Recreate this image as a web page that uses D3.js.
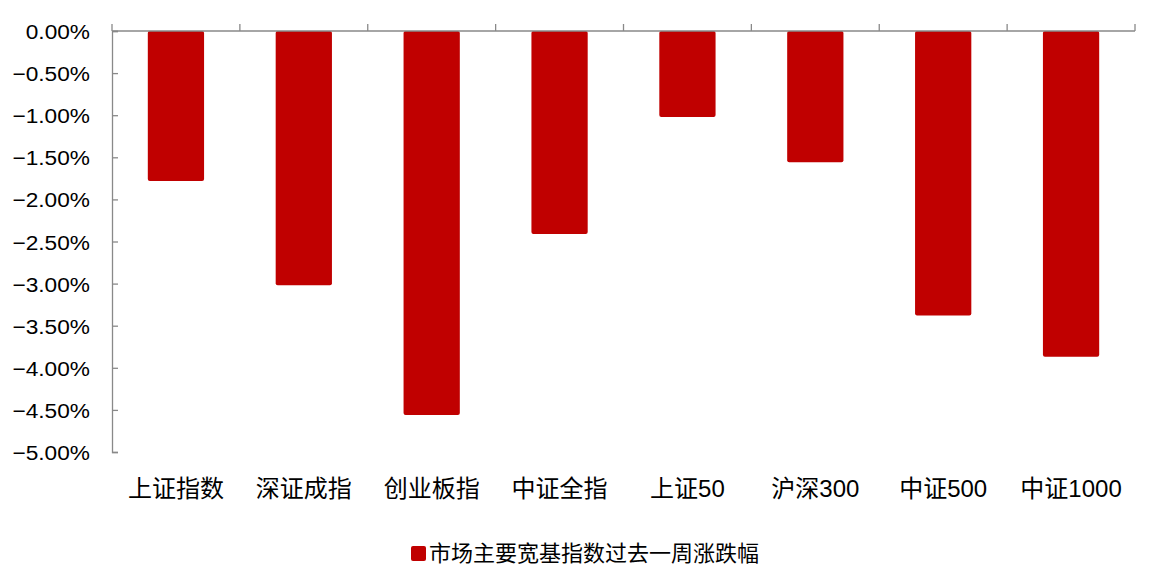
<!DOCTYPE html>
<html><head><meta charset="utf-8">
<script src="https://cdn.jsdelivr.net/npm/d3@7"></script>
<style>
body{margin:0;background:#fff;}
text{font-family:"Liberation Sans","Noto Sans CJK SC",Arial,sans-serif;}
</style></head>
<body><svg id="chart" width="1149" height="576"></svg>
<script>
const categories = ["上证指数","深证成指","创业板指","中证全指","上证50","沪深300","中证500","中证1000"];
const values = [-1.78, -3.02, -4.56, -2.41, -1.02, -1.56, -3.38, -3.87];
const yTicks = [0, -0.5, -1, -1.5, -2, -2.5, -3, -3.5, -4, -4.5, -5];
const seriesName = "市场主要宽基指数过去一周涨跌幅";

const svg = d3.select("#chart");
const pL = 112, pR = 1135, pT = 31, pB = 452;
const x = d3.scaleBand().domain(categories).range([pL, pR]).paddingInner(0.56).paddingOuter(0.28);
const y = d3.scaleLinear().domain([-5, 0]).range([pB, pT]);
const axisColor = "#898989";

// bars
svg.selectAll("rect.bar").data(values).enter().append("rect")
  .attr("class","bar")
  .attr("x",(d,i)=>x(categories[i]))
  .attr("width",x.bandwidth())
  .attr("y",y(0))
  .attr("height",d=>y(d)-y(0))
  .attr("rx",2)
  .attr("fill","#C00000");

// y axis
const yAxis = svg.append("g").attr("transform",`translate(${pL},0)`)
  .call(d3.axisRight(y).tickValues(yTicks).tickSize(6).tickFormat(d=>d3.format(".2f")(d)+"%"));
yAxis.select(".domain").attr("stroke",axisColor).attr("stroke-width",1.3);
yAxis.selectAll(".tick line").attr("stroke",axisColor).attr("stroke-width",1.3);
yAxis.selectAll(".tick text").attr("x",0).attr("text-anchor","end")
  .attr("transform","translate(-22,0) scale(1.08,1)")
  .attr("font-size",21).attr("fill","#000").attr("dy","0.36em");

// top (zero) axis with category boundary ticks pointing up
const boundaries = d3.range(categories.length+1).map(i=>pL + i*(pR-pL)/categories.length);
svg.append("line").attr("x1",pL).attr("x2",pR).attr("y1",y(0)).attr("y2",y(0))
  .attr("stroke",axisColor).attr("stroke-width",1.5);
svg.selectAll("line.bt").data(boundaries).enter().append("line").attr("class","bt")
  .attr("x1",d=>d).attr("x2",d=>d).attr("y1",y(0)).attr("y2",y(0)-7)
  .attr("stroke",axisColor).attr("stroke-width",1.3);

// category labels
svg.selectAll("text.cat").data(categories).enter().append("text").attr("class","cat")
  .attr("x",d=>x(d)+x.bandwidth()/2).attr("y",497)
  .attr("text-anchor","middle").attr("font-size",24).attr("fill","#000")
  .text(d=>d);

// legend
const lg = svg.append("g");
lg.append("rect").attr("x",411).attr("y",546).attr("width",15).attr("height",15).attr("rx",2).attr("fill","#C00000");
lg.append("text").attr("x",429).attr("y",561).attr("font-size",22).attr("fill","#000").text(seriesName);
</script></body></html>
